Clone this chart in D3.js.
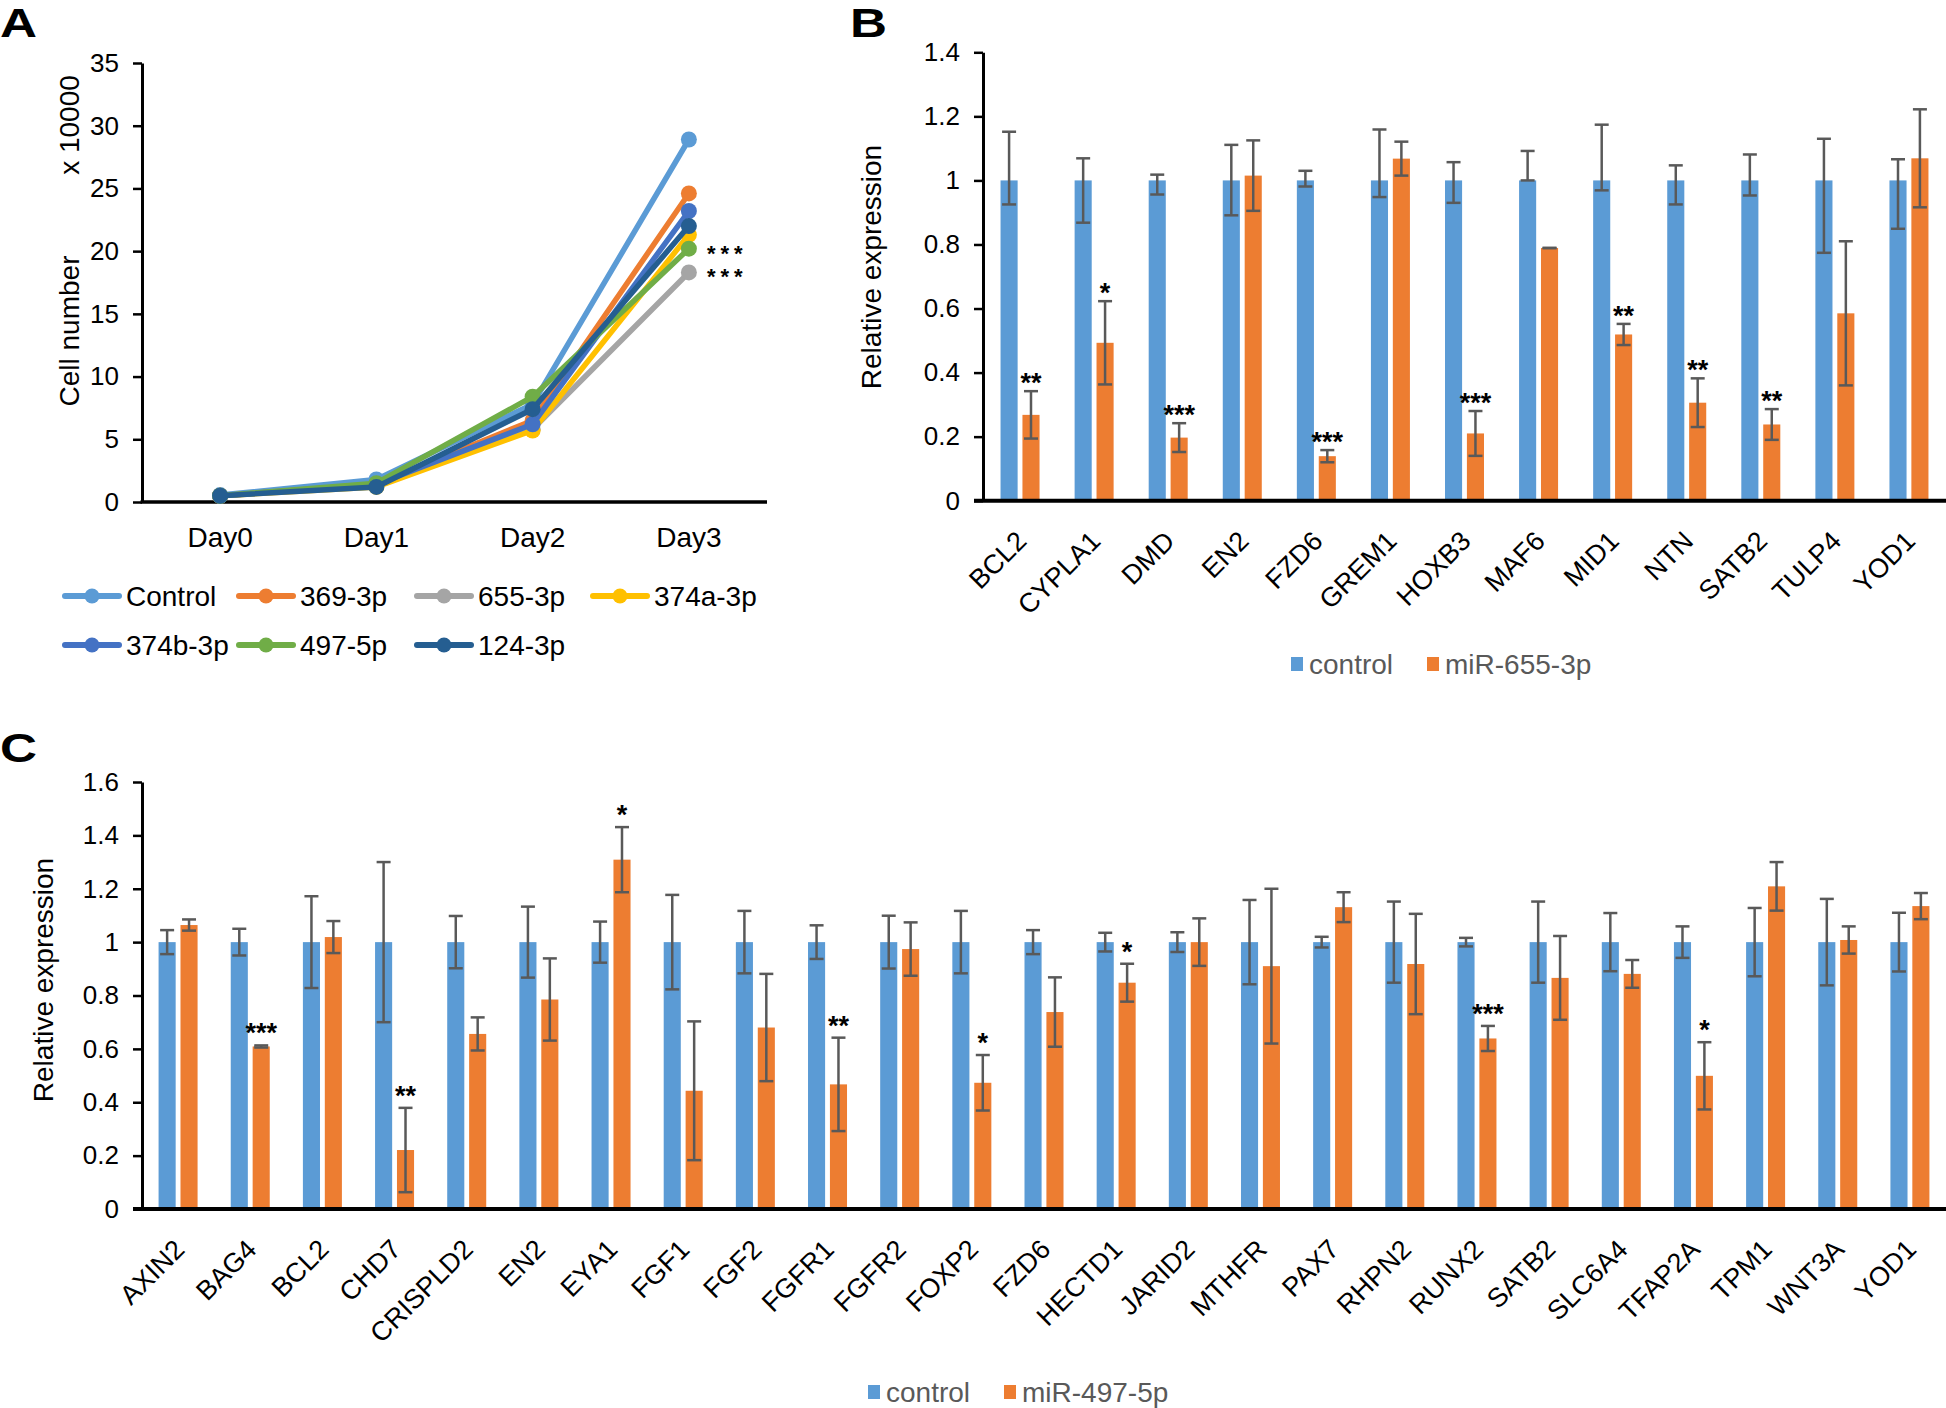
<!DOCTYPE html>
<html><head><meta charset="utf-8">
<script src="https://cdn.jsdelivr.net/npm/d3@7"></script>
<style>body{margin:0;background:#fff}svg{display:block}</style>
</head><body><svg id="c" width="1946" height="1408"></svg>
<script>
// ---------- Panel A data ----------
const daysA = ["Day0","Day1","Day2","Day3"];
const seriesA = ["Control","369-3p","655-3p","374a-3p","374b-3p","497-5p","124-3p"];
const controlA = [0.55,1.8,7.8,28.9];
const mir369A  = [0.5,1.4,6.5,24.6];
const mir655A  = [0.5,1.3,5.8,18.3];
const mir374aA = [0.5,1.2,5.7,21.3];
const mir374bA = [0.5,1.4,6.2,23.2];
const mir497A  = [0.5,1.5,8.4,20.2];
const mir124A  = [0.5,1.2,7.4,22.0];
const colorsA  = ["#5B9BD5","#ED7D31","#A5A5A5","#FFC000","#4472C4","#70AD47","#255E91"];
const ticksA   = [0,5,10,15,20,25,30,35];
const starsA   = [["497-5p","***"],["655-3p","***"]];

// ---------- Panel B data ----------
const genesB = ["BCL2","CYPLA1","DMD","EN2","FZD6","GREM1","HOXB3","MAF6","MID1","NTN","SATB2","TULP4","YOD1"];
const ctrlB     = [1,1,1,1,1,1,1,1,1,1,1,1,1];
const ctrlBUp   = [0.152,0.069,0.018,0.111,0.030,0.159,0.057,0.092,0.174,0.047,0.081,0.130,0.066];
const ctrlBDown = [0.075,0.132,0.044,0.109,0.019,0.052,0.070,0.000,0.031,0.075,0.047,0.226,0.151];
const mirB      = [0.268,0.493,0.197,1.015,0.139,1.068,0.210,0.789,0.519,0.306,0.238,0.585,1.069];
const mirBErr   = [0.074,0.130,0.045,0.110,0.019,0.053,0.070,0.000,0.033,0.076,0.048,0.225,0.153];
const starsB    = ["**","*","***","","***","","***","","**","**","**","",""];
const ticksB    = [0,0.2,0.4,0.6,0.8,1,1.2,1.4];
const legendB   = ["control","miR-655-3p"];

// ---------- Panel C data ----------
const genesC = ["AXIN2","BAG4","BCL2","CHD7","CRISPLD2","EN2","EYA1","FGF1","FGF2","FGFR1","FGFR2","FOXP2","FZD6","HECTD1","JARID2","MTHFR","PAX7","RHPN2","RUNX2","SATB2","SLC6A4","TFAP2A","TPM1","WNT3A","YOD1"];
const ctrlC    = [1,1,1,1,1,1,1,1,1,1,1,1,1,1,1,1,1,1,1,1,1,1,1,1,1];
const ctrlCErr = [0.045,0.050,0.172,0.300,0.098,0.133,0.077,0.177,0.117,0.063,0.099,0.117,0.045,0.035,0.037,0.158,0.020,0.152,0.016,0.152,0.109,0.059,0.128,0.162,0.110];
const mirC     = [1.064,0.609,1.019,0.221,0.656,0.785,1.309,0.443,0.680,0.467,0.974,0.473,0.738,0.848,1.000,0.910,1.131,0.918,0.639,0.866,0.881,0.499,1.209,1.008,1.135];
const mirCErr  = [0.021,0.004,0.060,0.158,0.062,0.154,0.122,0.260,0.201,0.175,0.100,0.104,0.130,0.071,0.089,0.290,0.056,0.188,0.047,0.157,0.052,0.126,0.091,0.051,0.049];
const starsC   = ["","***","","**","","","*","","","**","","*","","*","","","","","***","","","*","","",""];
const ticksC   = [0,0.2,0.4,0.6,0.8,1,1.2,1.4,1.6];
const legendC  = ["control","miR-497-5p"];

const barColors = ["#5B9BD5","#ED7D31"];
const FONT = '"Liberation Sans", Arial, Helvetica, sans-serif';
const ERR = "#595959";

const svg = d3.select("#c").attr("font-family", FONT);

function styleAxis(g){
  g.attr("font-family", FONT).attr("font-size", 26);
  g.select(".domain").attr("stroke","#000").attr("stroke-width",3);
  g.selectAll(".tick line").attr("stroke","#000").attr("stroke-width",2.5);
  g.selectAll(".tick text").attr("fill","#000");
}
function panelLetter(t, x, y){
  svg.append("text").attr("transform",`translate(${x},${y}) scale(1.25,1)`)
    .attr("font-size",41).attr("font-weight","bold").text(t);
}
function yTitle(t, x, y){
  svg.append("text").attr("transform",`translate(${x},${y}) rotate(-90)`)
    .attr("text-anchor","middle").attr("font-size",28).text(t);
}

// ================= Panel A =================
panelLetter("A", 0, 37);
const xA = d3.scaleBand().domain(daysA).range([142,767]);
const yA = d3.scaleLinear().domain([0,35]).range([502,63]);
const cxA = d => xA(d) + xA.bandwidth()/2;
svg.append("g").attr("transform","translate(142,0)")
  .call(d3.axisLeft(yA).tickValues(ticksA).tickSize(9).tickPadding(14).tickSizeOuter(0))
  .call(styleAxis);
svg.append("line").attr("x1",140.5).attr("x2",767).attr("y1",yA(0)).attr("y2",yA(0))
  .attr("stroke","#000").attr("stroke-width",3.5);
svg.append("g").selectAll("text").data(daysA).join("text")
  .attr("x",d=>cxA(d)).attr("y",547).attr("text-anchor","middle").attr("font-size",28).text(d=>d);
yTitle("Cell number", 79, 331);
yTitle("x 10000", 79, 125);

const valuesA = [controlA, mir369A, mir655A, mir374aA, mir374bA, mir497A, mir124A];
const lineA = d3.line().x((d,i)=>cxA(daysA[i])).y(d=>yA(d));
seriesA.forEach((s,k)=>{
  const g = svg.append("g");
  g.append("path").attr("d",lineA(valuesA[k])).attr("fill","none")
    .attr("stroke",colorsA[k]).attr("stroke-width",5.5).attr("stroke-linejoin","round");
  g.selectAll("circle").data(valuesA[k]).join("circle")
    .attr("cx",(d,i)=>cxA(daysA[i])).attr("cy",d=>yA(d)).attr("r",8).attr("fill",colorsA[k]);
});
// significance stars for panel A
starsA.forEach(([s,lab])=>{
  const k = seriesA.indexOf(s);
  const v = valuesA[k][daysA.length-1];
  svg.append("text").attr("x",cxA("Day3")+18).attr("y",yA(v)+12)
    .attr("font-size",22).attr("font-weight","bold").attr("letter-spacing",5).text(lab);
});
// legend A
const legCols = [62,236,414,590], legRows = [596,645];
seriesA.forEach((s,k)=>{
  const x0 = legCols[k<4?k:k-4], y0 = legRows[k<4?0:1];
  svg.append("line").attr("x1",x0+3).attr("x2",x0+57).attr("y1",y0).attr("y2",y0)
    .attr("stroke",colorsA[k]).attr("stroke-width",6).attr("stroke-linecap","round");
  svg.append("circle").attr("cx",x0+30).attr("cy",y0).attr("r",7.5).attr("fill",colorsA[k]);
  svg.append("text").attr("x",x0+64).attr("y",y0+10).attr("font-size",28).text(s);
});

// ================= Bar panels =================
function barPanel(cfg){
  const x = d3.scaleBand().domain(cfg.genes).range(cfg.xr);
  const y = d3.scaleLinear().domain([0,cfg.ticks[cfg.ticks.length-1]]).range(cfg.yr);
  const sub = d3.scaleBand().domain(["control","mir"]).range([-19.5,19.5]).paddingInner(0.22);
  const bw = sub.bandwidth();
  const cx = (g,k) => x(g) + x.bandwidth()/2 + sub(k) + bw/2;
  const g = svg.append("g");
  const series = [
    {k:"control", v:cfg.ctrl, up:cfg.ctrlUp, dn:cfg.ctrlDown, c:barColors[0]},
    {k:"mir", v:cfg.mir, up:cfg.mirErr, dn:cfg.mirErr, c:barColors[1]}
  ];
  series.forEach(s=>{
    g.append("g").selectAll("rect").data(cfg.genes).join("rect")
      .attr("x",(d)=>cx(d,s.k)-bw/2).attr("width",bw)
      .attr("y",(d,i)=>y(s.v[i])).attr("height",(d,i)=>y(0)-y(s.v[i]))
      .attr("fill",s.c);
  });
  series.forEach(s=>{
    const eg = g.append("g").attr("stroke",ERR).attr("stroke-width",2.5);
    cfg.genes.forEach((d,i)=>{
      const xc = cx(d,s.k), yt = y(s.v[i]+s.up[i]), yb = y(s.v[i]-s.dn[i]);
      eg.append("line").attr("x1",xc).attr("x2",xc).attr("y1",yt).attr("y2",yb);
      eg.append("line").attr("x1",xc-7).attr("x2",xc+7).attr("y1",yt).attr("y2",yt);
      eg.append("line").attr("x1",xc-7).attr("x2",xc+7).attr("y1",yb).attr("y2",yb);
    });
  });
  cfg.stars.forEach((st,i)=>{
    if(!st) return;
    const d = cfg.genes[i];
    g.append("text").attr("x",cx(d,"mir")).attr("y",y(cfg.mir[i]+cfg.mirErr[i])+cfg.starDy)
      .attr("text-anchor","middle").attr("font-size",27).attr("font-weight","bold").text(st);
  });
  svg.append("g").attr("transform",`translate(${cfg.xr[0]},0)`)
    .call(d3.axisLeft(y).tickValues(cfg.ticks).tickSize(9).tickPadding(14).tickSizeOuter(0).tickFormat(d=>String(d)))
    .call(styleAxis);
  svg.append("line").attr("x1",cfg.xr[0]-9).attr("x2",cfg.xr[1]).attr("y1",y(0)).attr("y2",y(0))
    .attr("stroke","#000").attr("stroke-width",4);
  svg.append("g").selectAll("text").data(cfg.genes).join("text")
    .attr("transform",d=>`translate(${x(d)+x.bandwidth()/2+8},${y(0)+42}) rotate(-45)`)
    .attr("text-anchor","end").attr("font-size",27).text(d=>d);
  // legend
  cfg.legend.forEach((t,k)=>{
    const lx = cfg.legX[k];
    svg.append("rect").attr("x",lx).attr("y",cfg.legY-7).attr("width",12).attr("height",14).attr("fill",barColors[k]);
    svg.append("text").attr("x",lx+18).attr("y",cfg.legY+10).attr("font-size",28).attr("fill","#595959").text(t);
  });
}

panelLetter("B", 850, 37);
barPanel({genes:genesB, xr:[983,1946], yr:[500.7,52.3], ticks:ticksB,
  ctrl:ctrlB, ctrlUp:ctrlBUp, ctrlDown:ctrlBDown, mir:mirB, mirErr:mirBErr, stars:starsB, starDy:1,
  legend:legendB, legX:[1291,1427], legY:664});
yTitle("Relative expression", 881, 267);

panelLetter("C", 0, 762);
barPanel({genes:genesC, xr:[142,1946], yr:[1209,782], ticks:ticksC,
  ctrl:ctrlC, ctrlUp:ctrlCErr, ctrlDown:ctrlCErr, mir:mirC, mirErr:mirCErr, stars:starsC, starDy:-3,
  legend:legendC, legX:[868,1004], legY:1392});
yTitle("Relative expression", 53, 980);
</script></body></html>
